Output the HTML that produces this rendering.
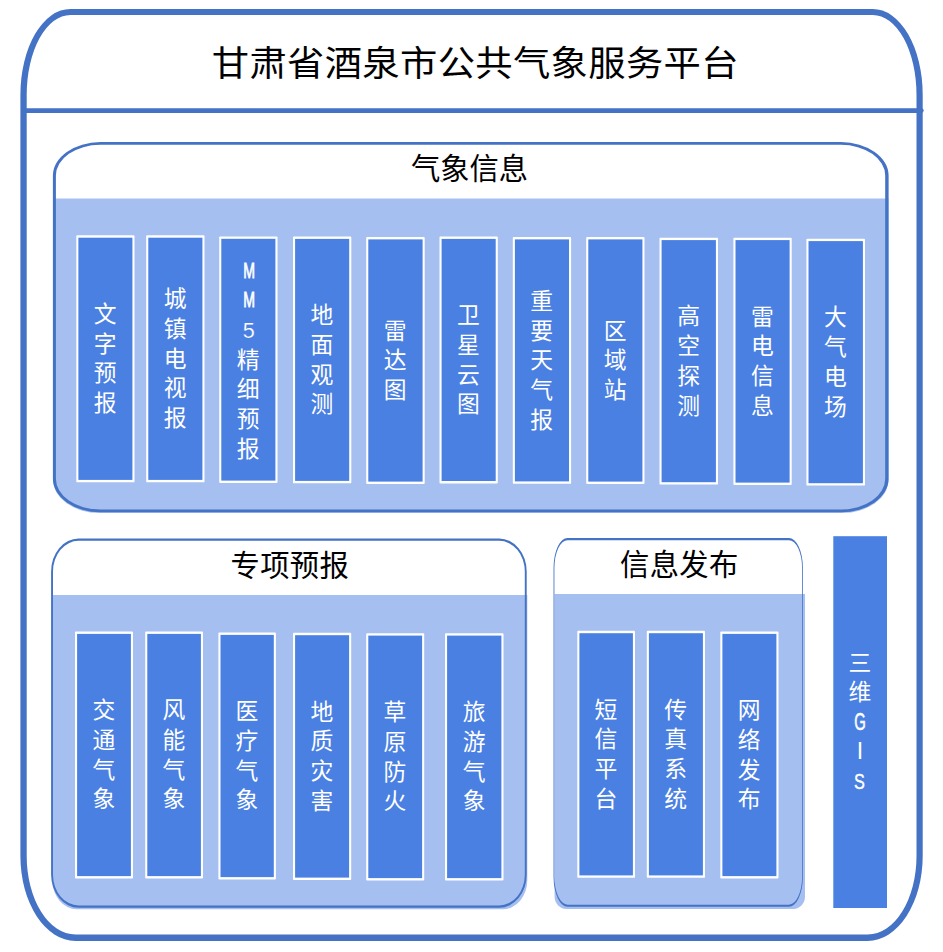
<!DOCTYPE html>
<html lang="zh-CN">
<head>
<meta charset="utf-8">
<title>甘肃省酒泉市公共气象服务平台</title>
<style>
html,body{margin:0;padding:0;background:#fff;}
body{width:943px;height:952px;overflow:hidden;}
svg{display:block;}
text{font-family:"Liberation Sans", "Noto Sans CJK SC", sans-serif;}
.h1{font-size:37.3px;fill:#000;letter-spacing:0.37px;}
.h2{font-size:29.3px;fill:#000;}
.v{font-size:22.8px;fill:#fff;}
.lat{fill:#fff;}
</style>
</head>
<body>
<svg width="943" height="952" viewBox="0 0 943 952">
<rect x="0" y="0" width="943" height="952" fill="#fff"/>
<path d="M70.40,8.90 L872.70,8.90 A50.00,86.00 0 0 1 922.70,94.90 L922.70,855.90 A55.00,85.00 0 0 1 867.70,940.90 L75.40,940.90 A55.00,85.00 0 0 1 20.40,855.90 L20.40,94.90 A50.00,86.00 0 0 1 70.40,8.90 Z" fill="#fff"/>
<path fill-rule="evenodd" fill="#4472C4" d="M70.40,8.90 L872.70,8.90 A50.00,86.00 0 0 1 922.70,94.90 L922.70,855.90 A55.00,85.00 0 0 1 867.70,940.90 L75.40,940.90 A55.00,85.00 0 0 1 20.40,855.90 L20.40,94.90 A50.00,86.00 0 0 1 70.40,8.90 Z M70.40,14.90 L872.80,14.90 A43.70,80.00 0 0 1 916.50,94.90 L916.50,855.90 A48.70,78.70 0 0 1 867.80,934.60 L75.40,934.60 A48.70,78.70 0 0 1 26.70,855.90 L26.70,94.90 A43.70,80.00 0 0 1 70.40,14.90 Z"/>
<line x1="24" y1="110.6" x2="921.3" y2="110.6" stroke="#4472C4" stroke-width="4.8" stroke-linecap="round"/>
<text class="h1" text-anchor="middle" transform="translate(475.3,76.1) scale(1,0.945)">甘肃省酒泉市公共气象服务平台</text>
<path d="M100.40,142.10 L841.10,142.10 A47.50,33.50 0 0 1 888.60,175.60 L888.60,478.70 A47.50,33.50 0 0 1 841.10,512.20 L100.40,512.20 A47.50,33.50 0 0 1 52.90,478.70 L52.90,175.60 A47.50,33.50 0 0 1 100.40,142.10 Z" fill="#fff"/>
<path d="M53.20,198.40 L888.40,198.40 L888.40,480.00 A46,33 0 0 1 842.40,513.00 L99.20,513.00 A46,33 0 0 1 53.20,480.00 Z" fill="#A5BFF1"/>
<path fill-rule="evenodd" fill="#4472C4" d="M100.40,142.10 L841.10,142.10 A47.50,33.50 0 0 1 888.60,175.60 L888.60,478.70 A47.50,33.50 0 0 1 841.10,512.20 L100.40,512.20 A47.50,33.50 0 0 1 52.90,478.70 L52.90,175.60 A47.50,33.50 0 0 1 100.40,142.10 Z M100.20,144.80 L840.90,144.80 A44.30,30.80 0 0 1 885.20,175.60 L885.20,478.70 A44.30,30.80 0 0 1 840.90,509.50 L100.20,509.50 A44.30,30.80 0 0 1 55.90,478.70 L55.90,175.60 A44.30,30.80 0 0 1 100.20,144.80 Z"/>
<text x="469.5" y="178.5" class="h2" text-anchor="middle" letter-spacing="0">气象信息</text>
<rect x="76.30" y="235.30" width="58.20" height="247.00" rx="0.9" ry="0.9" fill="#fff"/>
<rect x="78.40" y="237.70" width="54.00" height="242.20" fill="#4A80E2"/>
<text class="v" text-anchor="middle"><tspan x="105.20 105.20 105.20 105.20" y="322.05 351.75 381.45 411.15">文字预报</tspan></text>
<rect x="146.20" y="235.30" width="58.30" height="247.00" rx="0.9" ry="0.9" fill="#fff"/>
<rect x="148.30" y="237.70" width="54.10" height="242.20" fill="#4A80E2"/>
<text class="v" text-anchor="middle"><tspan x="175.15 175.15 175.15 175.15 175.15" y="307.20 336.90 366.60 396.30 426.00">城镇电视报</tspan></text>
<rect x="219.20" y="236.40" width="58.30" height="246.60" rx="0.9" ry="0.9" fill="#fff"/>
<rect x="221.30" y="238.80" width="54.10" height="241.80" fill="#4A80E2"/>
<text class="v" text-anchor="middle"><tspan x="249.05" y="277.52" font-size="21.6" textLength="11.75" lengthAdjust="spacingAndGlyphs" stroke="#fff" stroke-width="0.8">M</tspan><tspan x="249.05" y="307.22" font-size="21.6" textLength="11.75" lengthAdjust="spacingAndGlyphs" stroke="#fff" stroke-width="0.8">M</tspan><tspan x="248.65" y="337.50" font-size="22.8" textLength="12.05" lengthAdjust="spacingAndGlyphs" stroke="#4A80E2" stroke-width="0.2">5</tspan><tspan x="248.15 248.15 248.15 248.15" y="367.50 397.20 426.90 456.60">精细预报</tspan></text>
<rect x="293.00" y="236.50" width="58.30" height="246.80" rx="0.9" ry="0.9" fill="#fff"/>
<rect x="295.10" y="238.90" width="54.10" height="242.00" fill="#4A80E2"/>
<text class="v" text-anchor="middle"><tspan x="321.95 321.95 321.95 321.95" y="323.15 352.85 382.55 412.25">地面观测</tspan></text>
<rect x="366.20" y="237.00" width="58.50" height="247.00" rx="0.9" ry="0.9" fill="#fff"/>
<rect x="368.30" y="239.40" width="54.30" height="242.20" fill="#4A80E2"/>
<text class="v" text-anchor="middle"><tspan x="395.25 395.25 395.25" y="338.60 368.30 398.00">雷达图</tspan></text>
<rect x="439.50" y="236.50" width="58.30" height="246.90" rx="0.9" ry="0.9" fill="#fff"/>
<rect x="441.60" y="238.90" width="54.10" height="242.10" fill="#4A80E2"/>
<text class="v" text-anchor="middle"><tspan x="468.45 468.45 468.45 468.45" y="323.20 352.90 382.60 412.30">卫星云图</tspan></text>
<rect x="512.80" y="237.00" width="58.30" height="246.80" rx="0.9" ry="0.9" fill="#fff"/>
<rect x="514.90" y="239.40" width="54.10" height="242.00" fill="#4A80E2"/>
<text class="v" text-anchor="middle"><tspan x="541.75 541.75 541.75 541.75 541.75" y="308.80 338.50 368.20 397.90 427.60">重要天气报</tspan></text>
<rect x="586.20" y="237.00" width="58.30" height="247.00" rx="0.9" ry="0.9" fill="#fff"/>
<rect x="588.30" y="239.40" width="54.10" height="242.20" fill="#4A80E2"/>
<text class="v" text-anchor="middle"><tspan x="615.15 615.15 615.15" y="338.60 368.30 398.00">区域站</tspan></text>
<rect x="659.50" y="237.70" width="58.50" height="246.90" rx="0.9" ry="0.9" fill="#fff"/>
<rect x="661.60" y="240.10" width="54.30" height="242.10" fill="#4A80E2"/>
<text class="v" text-anchor="middle"><tspan x="688.55 688.55 688.55 688.55" y="324.40 354.10 383.80 413.50">高空探测</tspan></text>
<rect x="733.40" y="237.70" width="58.30" height="247.30" rx="0.9" ry="0.9" fill="#fff"/>
<rect x="735.50" y="240.10" width="54.10" height="242.50" fill="#4A80E2"/>
<text class="v" text-anchor="middle"><tspan x="762.35 762.35 762.35 762.35" y="324.60 354.30 384.00 413.70">雷电信息</tspan></text>
<rect x="806.40" y="238.70" width="58.60" height="246.90" rx="0.9" ry="0.9" fill="#fff"/>
<rect x="808.50" y="241.10" width="54.40" height="242.10" fill="#4A80E2"/>
<text class="v" text-anchor="middle"><tspan x="835.50 835.50 835.50 835.50" y="325.40 355.10 384.80 414.50">大气电场</tspan></text>
<path d="M78.60,538.50 L499.20,538.50 A27.50,33.00 0 0 1 526.70,571.50 L526.70,874.70 A27.50,33.00 0 0 1 499.20,907.70 L78.60,907.70 A27.50,33.00 0 0 1 51.10,874.70 L51.10,571.50 A27.50,33.00 0 0 1 78.60,538.50 Z" fill="#fff"/>
<path d="M52.30,594.90 L527.30,594.90 L527.30,880.20 A24.5,29 0 0 1 502.80,909.20 L76.80,909.20 A24.5,29 0 0 1 52.30,880.20 Z" fill="#A5BFF1"/>
<path fill-rule="evenodd" fill="#4472C4" d="M78.60,538.50 L499.20,538.50 A27.50,33.00 0 0 1 526.70,571.50 L526.70,874.70 A27.50,33.00 0 0 1 499.20,907.70 L78.60,907.70 A27.50,33.00 0 0 1 51.10,874.70 L51.10,571.50 A27.50,33.00 0 0 1 78.60,538.50 Z M78.60,540.80 L499.20,540.80 A25.60,30.70 0 0 1 524.80,571.50 L524.80,874.70 A25.60,30.70 0 0 1 499.20,905.40 L78.60,905.40 A25.60,30.70 0 0 1 53.00,874.70 L53.00,571.50 A25.60,30.70 0 0 1 78.60,540.80 Z"/>
<text x="289.8" y="576.0" class="h2" text-anchor="middle" letter-spacing="0.35">专项预报</text>
<rect x="75.00" y="631.50" width="58.00" height="247.00" rx="0.9" ry="0.9" fill="#fff"/>
<rect x="77.10" y="633.90" width="53.80" height="242.20" fill="#4A80E2"/>
<text class="v" text-anchor="middle"><tspan x="103.80 103.80 103.80 103.80" y="718.25 747.95 777.65 807.35">交通气象</tspan></text>
<rect x="145.20" y="631.50" width="57.80" height="247.00" rx="0.9" ry="0.9" fill="#fff"/>
<rect x="147.30" y="633.90" width="53.60" height="242.20" fill="#4A80E2"/>
<text class="v" text-anchor="middle"><tspan x="173.90 173.90 173.90 173.90" y="718.25 747.95 777.65 807.35">风能气象</tspan></text>
<rect x="218.40" y="632.50" width="57.50" height="247.00" rx="0.9" ry="0.9" fill="#fff"/>
<rect x="220.50" y="634.90" width="53.30" height="242.20" fill="#4A80E2"/>
<text class="v" text-anchor="middle"><tspan x="246.95 246.95 246.95 246.95" y="719.25 748.95 778.65 808.35">医疗气象</tspan></text>
<rect x="293.00" y="632.80" width="58.20" height="247.20" rx="0.9" ry="0.9" fill="#fff"/>
<rect x="295.10" y="635.20" width="54.00" height="242.40" fill="#4A80E2"/>
<text class="v" text-anchor="middle"><tspan x="321.90 321.90 321.90 321.90" y="719.65 749.35 779.05 808.75">地质灾害</tspan></text>
<rect x="366.20" y="633.20" width="58.00" height="247.30" rx="0.9" ry="0.9" fill="#fff"/>
<rect x="368.30" y="635.60" width="53.80" height="242.50" fill="#4A80E2"/>
<text class="v" text-anchor="middle"><tspan x="395.00 395.00 395.00 395.00" y="720.10 749.80 779.50 809.20">草原防火</tspan></text>
<rect x="445.00" y="633.20" width="58.50" height="247.30" rx="0.9" ry="0.9" fill="#fff"/>
<rect x="447.10" y="635.60" width="54.30" height="242.50" fill="#4A80E2"/>
<text class="v" text-anchor="middle"><tspan x="474.05 474.05 474.05 474.05" y="720.10 749.80 779.50 809.20">旅游气象</tspan></text>
<path d="M567.55,537.90 L788.90,537.90 A14.00,30.00 0 0 1 802.90,567.90 L802.90,876.80 A14.00,30.00 0 0 1 788.90,906.80 L567.55,906.80 A14.00,30.00 0 0 1 553.55,876.80 L553.55,567.90 A14.00,30.00 0 0 1 567.55,537.90 Z" fill="#fff"/>
<path d="M554.60,594.00 L805.00,594.00 L805.00,896.40 A11.5,12.5 0 0 1 793.50,908.90 L566.10,908.90 A11.5,12.5 0 0 1 554.60,896.40 Z" fill="#A5BFF1"/>
<path fill-rule="evenodd" fill="#4472C4" d="M567.55,537.90 L788.90,537.90 A14.00,30.00 0 0 1 802.90,567.90 L802.90,876.80 A14.00,30.00 0 0 1 788.90,906.80 L567.55,906.80 A14.00,30.00 0 0 1 553.55,876.80 L553.55,567.90 A14.00,30.00 0 0 1 567.55,537.90 Z M567.57,540.20 L788.93,540.20 A13.18,27.80 0 0 1 802.10,568.00 L802.10,876.90 A13.18,27.80 0 0 1 788.93,904.70 L567.57,904.70 A13.18,27.80 0 0 1 554.40,876.90 L554.40,568.00 A13.18,27.80 0 0 1 567.57,540.20 Z"/>
<text x="679.3" y="575.2" class="h2" text-anchor="middle" letter-spacing="0.35">信息发布</text>
<rect x="577.30" y="630.80" width="57.70" height="247.00" rx="0.9" ry="0.9" fill="#fff"/>
<rect x="579.40" y="633.20" width="53.50" height="242.20" fill="#4A80E2"/>
<text class="v" text-anchor="middle"><tspan x="605.95 605.95 605.95 605.95" y="717.55 747.25 776.95 806.65">短信平台</tspan></text>
<rect x="646.80" y="630.80" width="58.20" height="247.00" rx="0.9" ry="0.9" fill="#fff"/>
<rect x="648.90" y="633.20" width="54.00" height="242.20" fill="#4A80E2"/>
<text class="v" text-anchor="middle"><tspan x="675.70 675.70 675.70 675.70" y="717.55 747.25 776.95 806.65">传真系统</tspan></text>
<rect x="720.30" y="631.50" width="58.20" height="247.00" rx="0.9" ry="0.9" fill="#fff"/>
<rect x="722.40" y="633.90" width="54.00" height="242.20" fill="#4A80E2"/>
<text class="v" text-anchor="middle"><tspan x="749.20 749.20 749.20 749.20" y="718.25 747.95 777.65 807.35">网络发布</tspan></text>
<rect x="833.30" y="536.20" width="53.70" height="371.80" fill="#4A80E2"/>
<text class="v" text-anchor="middle"><tspan x="859.95 859.95" y="670.50 700.20">三维</tspan><tspan x="859.95" y="729.50" font-size="23.5" textLength="11.52" lengthAdjust="spacingAndGlyphs" stroke="#fff" stroke-width="0.6">G</tspan><tspan x="859.88" y="758.60" font-size="23.1">I</tspan><tspan x="859.50" y="788.50" font-size="22.9" textLength="10.84" lengthAdjust="spacingAndGlyphs" stroke="#fff" stroke-width="0.4">S</tspan></text>
</svg>
</body>
</html>
